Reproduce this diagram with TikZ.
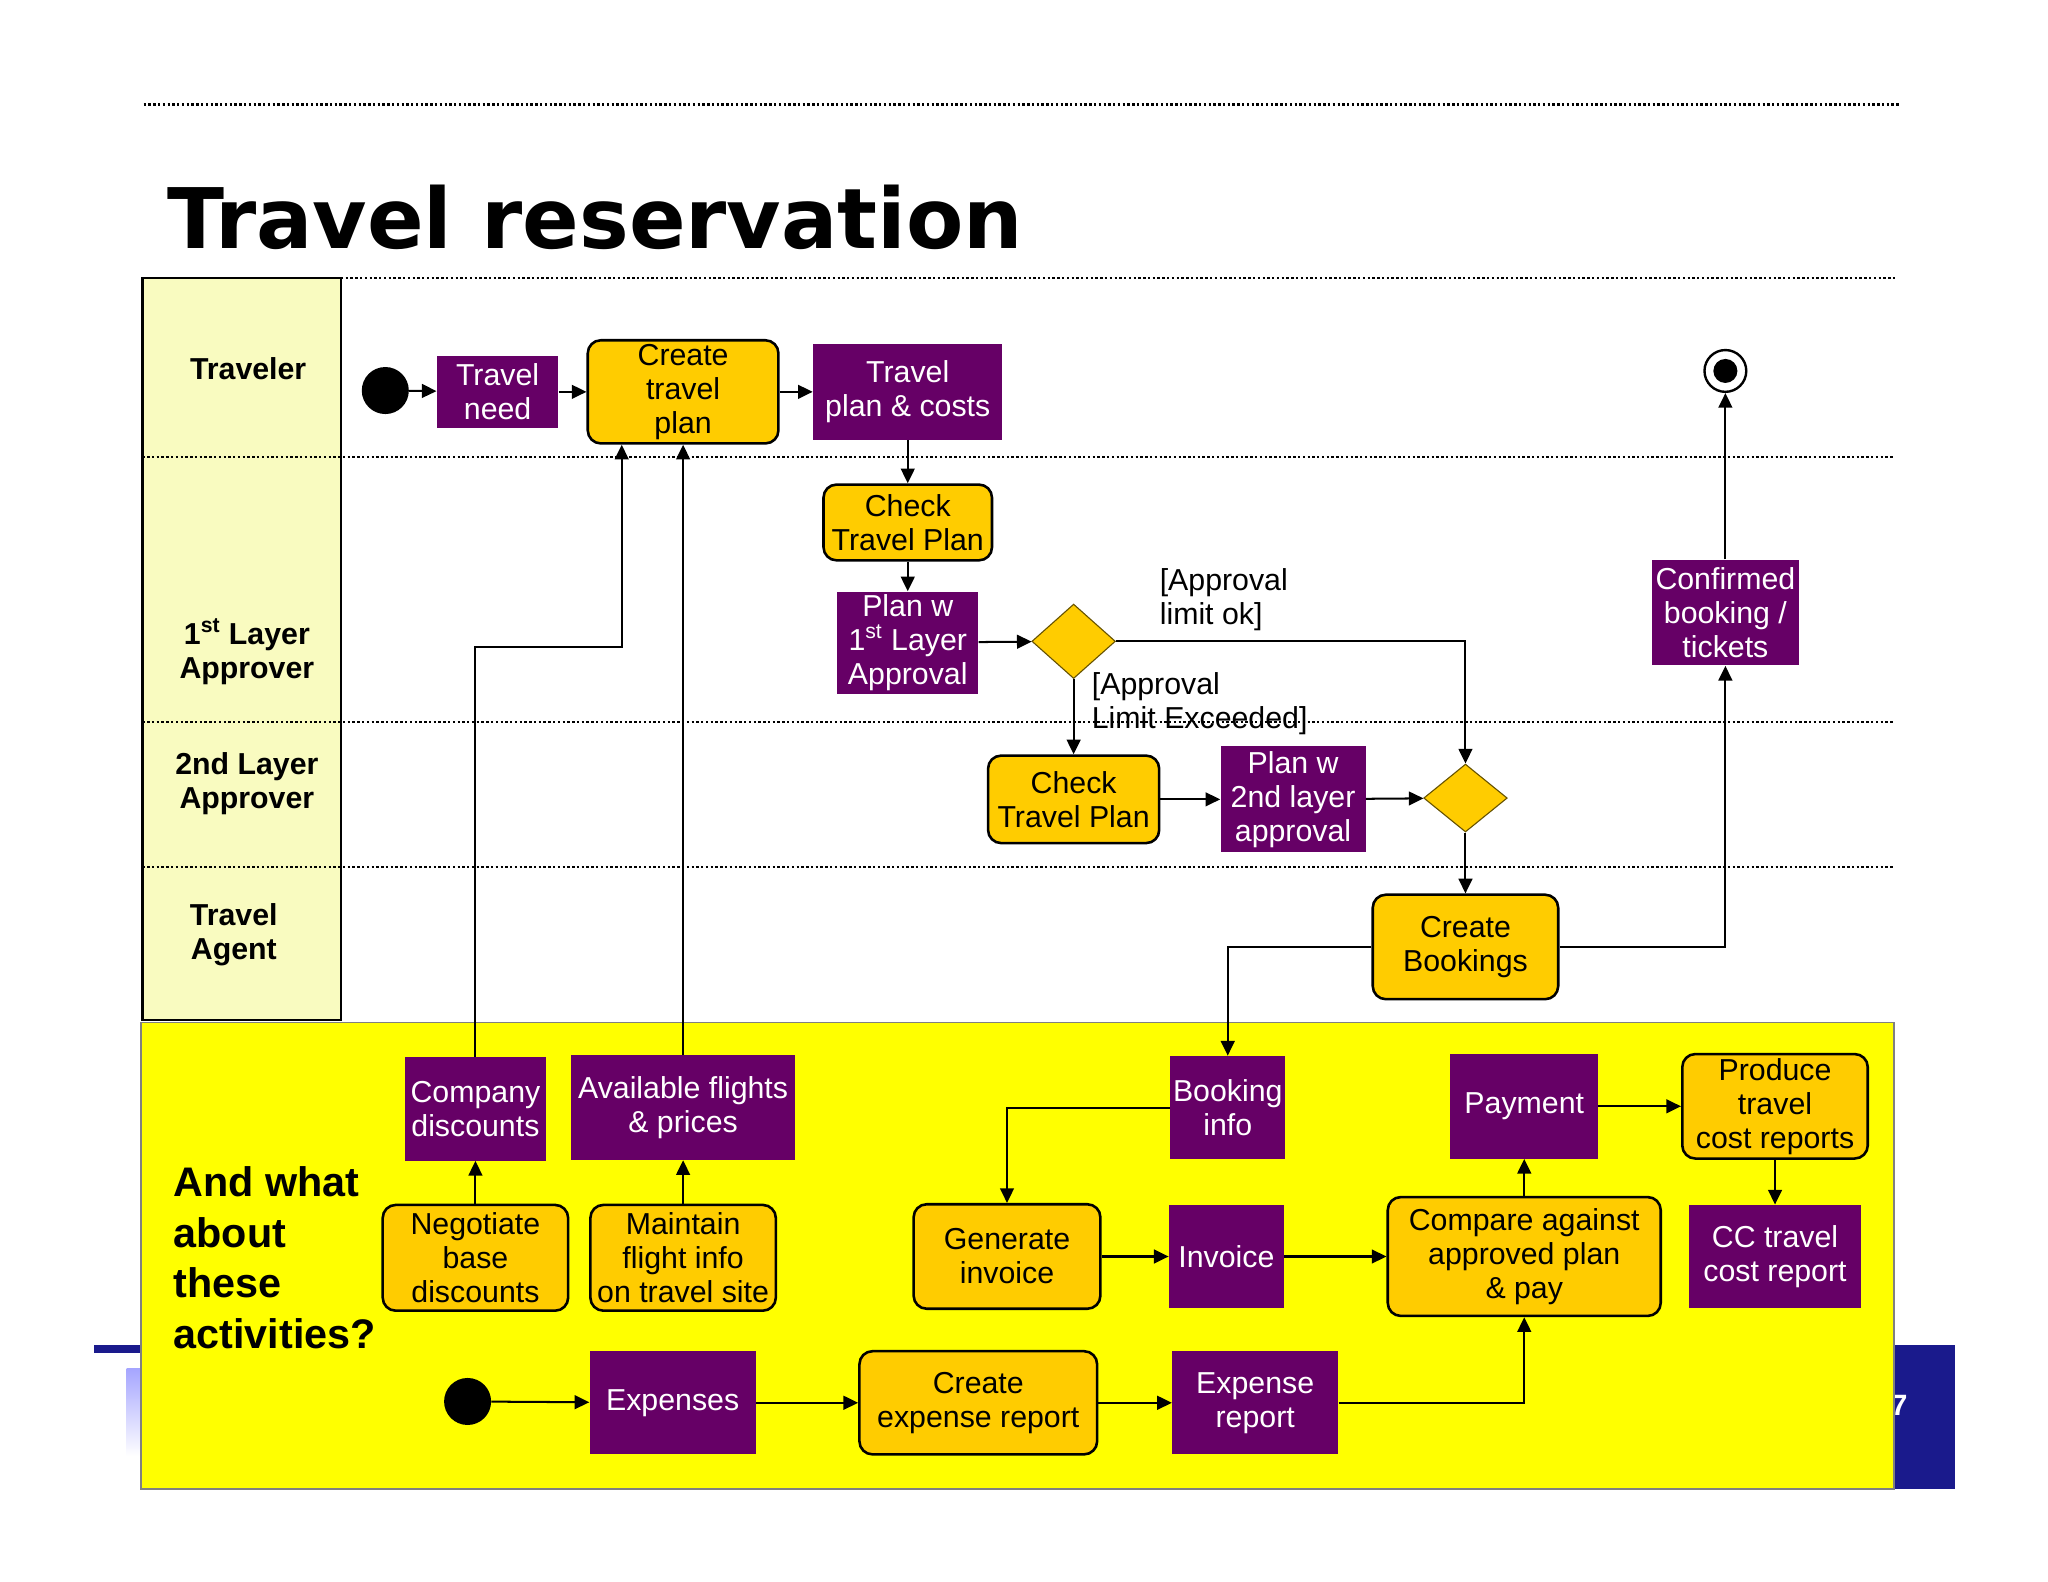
\documentclass[tikz,border=0pt]{standalone}
\usepackage{fontspec}
\setmainfont{Liberation Sans}
\newfontfamily\titlefont{DejaVu Sans}
\usetikzlibrary{arrows.meta,shapes.geometric}

\definecolor{actpurple}{HTML}{660066}
\definecolor{actorange}{HTML}{FFCC00}
\definecolor{lanefill}{HTML}{F9FBC0}
\definecolor{slideblue}{HTML}{1A1A8C}
\definecolor{otheryellow}{HTML}{FFFF00}

\newcommand{\nodefont}{\fontsize{16.5}{18.5}\selectfont}
\newcommand{\lanefont}{\bfseries\fontsize{16.5}{18.5}\selectfont}

\tikzset{
  boxsize/.style 2 args={minimum width=#1*0.025cm, minimum height=#2*0.025cm},
  obj/.style={rectangle, fill=actpurple, text=white, align=center, inner sep=0pt, font=\nodefont},
  act/.style={rectangle, rounded corners=0.25cm, draw=black, line width=1.4pt, fill=actorange, align=center, inner sep=0pt, font=\nodefont},
  decision/.style={diamond, draw=black!60!actorange, line width=0.6pt, fill=actorange, inner sep=0pt},
  startnode/.style={circle, fill=black, minimum size=0.9cm, inner sep=0pt},
  endnode/.style={circle, draw=black, line width=1.3pt, fill=white, minimum size=0.8cm, inner sep=0pt,
    path picture={\fill[black] (path picture bounding box.center) circle (0.23cm);}},
  flow/.style={-{Triangle[length=8pt,width=7.5pt]}, line width=1.1pt},
  lanesep/.style={line width=1.3pt, dash pattern=on 1.3pt off 1.3pt},
  guard/.style={anchor=west, align=left, font=\nodefont},
}

\begin{document}
\begin{tikzpicture}[x=0.025cm, y=-0.025cm]
	\useasboundingbox (0,0) rectangle (1568,1211);
	
	\fill[slideblue] (72,1030) rectangle (1497,1036);
	\fill[slideblue] (1450,1030) rectangle (1497,1140);
	\node[anchor=west, text=white, font=\bfseries\fontsize{16}{18}\selectfont] (pagenum) at (1443,1076) {7};
	\shade[top color=blue!35, bottom color=white] (97,1048) rectangle (108,1115);
	
	\draw[lanesep] (110,80) -- (1455,80);
	\node[anchor=base west, font=\titlefont\bfseries\fontsize{45.5}{50}\selectfont] (title) at (123,190) {Travel reservation};
	
	\fill[lanefill] (109,213) rectangle (261,781);
	\draw[lanesep] (261,213) -- (1452,213);
	\draw[lanesep] (109,350) -- (1450,350);
	\draw[lanesep] (109,553) -- (1450,553);
	\draw[lanesep] (109,664) -- (1450,664);
	\draw[line width=1.4pt] (109,213) rectangle (261,781);
	
	\node[font=\lanefont, align=center] (traveler) at (190,282) {Traveler};
	\node[font=\lanefont, align=center] (layer1) at (189,499) {1\textsuperscript{st} Layer\\Approver};
	\node[font=\lanefont, align=center] (layer2) at (189,600) {2nd Layer\\Approver};
	\node[font=\lanefont, align=center] (agent) at (179,716) {Travel\\Agent};
	
	\draw[gray, fill=otheryellow, line width=0.8pt] (108,783) rectangle (1450,1140);
	\node[anchor=west, align=left, font=\bfseries\fontsize{22.5}{27.5}\selectfont] (question) at (128,963) {And what\\about\\these\\activities?};
	
	\node[startnode] (start) at (295,299) {};
	\node[obj, boxsize={93}{55}] (need) at (381,300) {Travel\\need};
	\node[act, boxsize={146}{79}] (create) at (523,300) {Create\\travel\\plan};
	\node[obj, boxsize={145}{73}] (plancost) at (695,300) {Travel\\plan \& costs};
	\node[endnode] (final) at (1321,284) {};
	
	\node[act, boxsize={129}{58}] (check1) at (695,400) {Check\\Travel Plan};
	\node[obj, boxsize={108}{78}] (approve1) at (695,492) {Plan w\\1\textsuperscript{st} Layer\\Approval};
	\node[decision, boxsize={64}{57}] (dec1) at (822,491) {};
	\node[guard] (oklabel) at (883,459) {[Approval\\limit ok]};
	\node[guard] (exlabel) at (831,539) {[Approval\\Limit Exceeded]};
	\node[obj, boxsize={112}{81}] (confirmed) at (1321,469) {Confirmed\\booking /\\tickets};
	
	\node[act, boxsize={131}{67}] (check2) at (822,612) {Check\\Travel Plan};
	\node[obj, boxsize={111}{81}] (approve2) at (990,612) {Plan w\\2nd layer\\approval};
	\node[decision, boxsize={64}{52}] (dec2) at (1122,611) {};
	\node[act, boxsize={142}{80}] (bookings) at (1122,725) {Create\\Bookings};
	
	\node[obj, boxsize={108}{79}] (discounts) at (364,849) {Company\\discounts};
	\node[obj, boxsize={171}{80}] (flights) at (523,848) {Available flights\\\& prices};
	\node[act, boxsize={142}{81}] (negotiate) at (364,963) {Negotiate\\base\\discounts};
	\node[act, boxsize={142}{81}] (maintain) at (523,963) {Maintain\\flight info\\on travel site};
	\node[obj, boxsize={88}{79}] (bookinfo) at (940,848) {Booking\\info};
	\node[act, boxsize={143}{80}] (geninv) at (771,962) {Generate\\invoice};
	\node[obj, boxsize={88}{79}] (invoice) at (939,962) {Invoice};
	\node[act, boxsize={209}{91}] (compare) at (1167,962) {Compare against\\approved plan\\\& pay};
	\node[obj, boxsize={113}{80}] (payment) at (1167,847) {Payment};
	\node[act, boxsize={142}{80}] (produce) at (1359,847) {Produce\\travel\\cost reports};
	\node[obj, boxsize={132}{79}] (ccreport) at (1359,962) {CC travel\\cost report};
	\node[startnode] (start2) at (358,1073) {};
	\node[obj, boxsize={127}{79}] (expenses) at (515,1074) {Expenses};
	\node[act, boxsize={182}{79}] (mkexpense) at (749,1074) {Create\\expense report};
	\node[obj, boxsize={127}{79}] (expreport) at (961,1074) {Expense\\report};
	
	\coordinate (discbend) at (476,495);
	
	\path[flow] (start) edge (need);
	\path[flow] (need) edge (create);
	\path[flow] (create) edge (plancost);
	\path[flow] (plancost) edge (check1);
	\path[flow] (check1) edge (approve1);
	\path[flow] (approve1) edge (dec1);
	\draw[flow] (dec1.east) -| (dec2.north);
	\path[flow] (dec1) edge (check2);
	\path[flow] (check2) edge (approve2);
	\path[flow] (approve2) edge (dec2);
	\path[flow] (dec2) edge (bookings);
	\draw[flow] (bookings.east) -| (confirmed.south);
	\path[flow] (confirmed) edge (final);
	\draw[flow] (bookings.west) -| (bookinfo.north);
	\draw[flow] (discounts.north) |- (discbend) -- (discbend |- create.south);
	\path[flow] (flights) edge (create);
	\path[flow] (negotiate) edge (discounts);
	\path[flow] (maintain) edge (flights);
	\draw[flow] (bookinfo.west) -| (geninv.north);
	\path[flow] (geninv) edge (invoice);
	\path[flow] (invoice) edge (compare);
	\path[flow] (compare) edge (payment);
	\path[flow] (payment) edge (produce);
	\path[flow] (produce) edge (ccreport);
	\path[flow] (start2) edge (expenses);
	\path[flow] (expenses) edge (mkexpense);
	\path[flow] (mkexpense) edge (expreport);
	\draw[flow] (expreport.east) -| (compare.south);
	
\end{tikzpicture}
\end{document}
